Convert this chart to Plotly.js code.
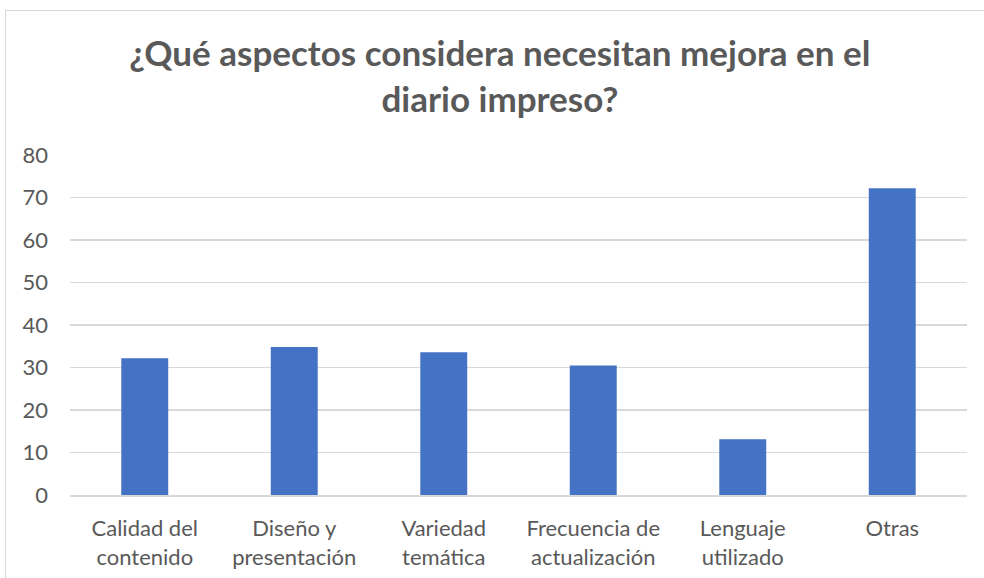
<!DOCTYPE html>
<html>
<head>
<meta charset="utf-8">
<script src="https://cdn.plot.ly/plotly-3.0.1.min.js"></script>
<style>
  html, body { margin: 0; padding: 0; background: #ffffff; }
  #wrap { position: relative; width: 984px; height: 578px; overflow: hidden; }
  #chart { position: absolute; left: 0; top: 0; width: 984px; height: 578px; }
  #frame { position: absolute; left: 5px; top: 10px; width: 1000px; height: 600px;
           border-left: 1px solid #d9d9d9; border-top: 1px solid #d9d9d9; pointer-events: none; }
</style>
</head>
<body>
<div id="wrap">
  <div id="chart"></div>
  <div id="frame"></div>
</div>
<script>
const chartTitle = "¿Qué aspectos considera necesitan mejora en el<br>diario impreso?";
const categories = [
  "Calidad del<br>contenido",
  "Diseño y<br>presentación",
  "Variedad<br>temática",
  "Frecuencia de<br>actualización",
  "Lenguaje<br>utilizado",
  "Otras"
];
const values = [32.2, 34.8, 33.6, 30.5, 13.1, 72.2];
const yTicks = [0, 10, 20, 30, 40, 50, 60, 70, 80];

const fontFam = "Lato, 'Open Sans', sans-serif";
const textColor = "#595959";
const gridColor = "#d9d9d9";

const trace = {
  type: "bar",
  x: categories,
  y: values,
  width: 0.314,
  marker: { color: "#4472C4", line: { width: 0 } },
  hoverinfo: "x+y"
};

const layout = {
  width: 984,
  height: 578,
  margin: { l: 70, r: 17, t: 155, b: 83, pad: 0 },
  paper_bgcolor: "rgba(0,0,0,0)",
  plot_bgcolor: "rgba(0,0,0,0)",
  showlegend: false,
  bargap: 0.686,
  title: {
    text: chartTitle,
    font: { family: fontFam, size: 35, color: textColor, weight: "bold" },
    x: 0.508,
    xref: "container",
    xanchor: "center",
    y: 1 - 66 / 578,
    yref: "container",
    yanchor: "top"
  },
  xaxis: {
    type: "category",
    showgrid: false,
    showline: true,
    linecolor: gridColor,
    linewidth: 1.5,
    ticks: "",
    ticklabelstandoff: 13,
    tickfont: { family: fontFam, size: 22, color: textColor },
    fixedrange: true
  },
  yaxis: {
    range: [0, 80],
    tickvals: yTicks,
    ticktext: yTicks.map(String),
    showgrid: true,
    gridcolor: gridColor,
    gridwidth: 1.5,
    zeroline: false,
    showline: false,
    ticks: "",
    ticklabelstandoff: 21,
    tickfont: { family: fontFam, size: 22, color: textColor },
    fixedrange: true
  }
};

Plotly.newPlot("chart", [trace], layout, { displayModeBar: false, staticPlot: true });
</script>
</body>
</html>
